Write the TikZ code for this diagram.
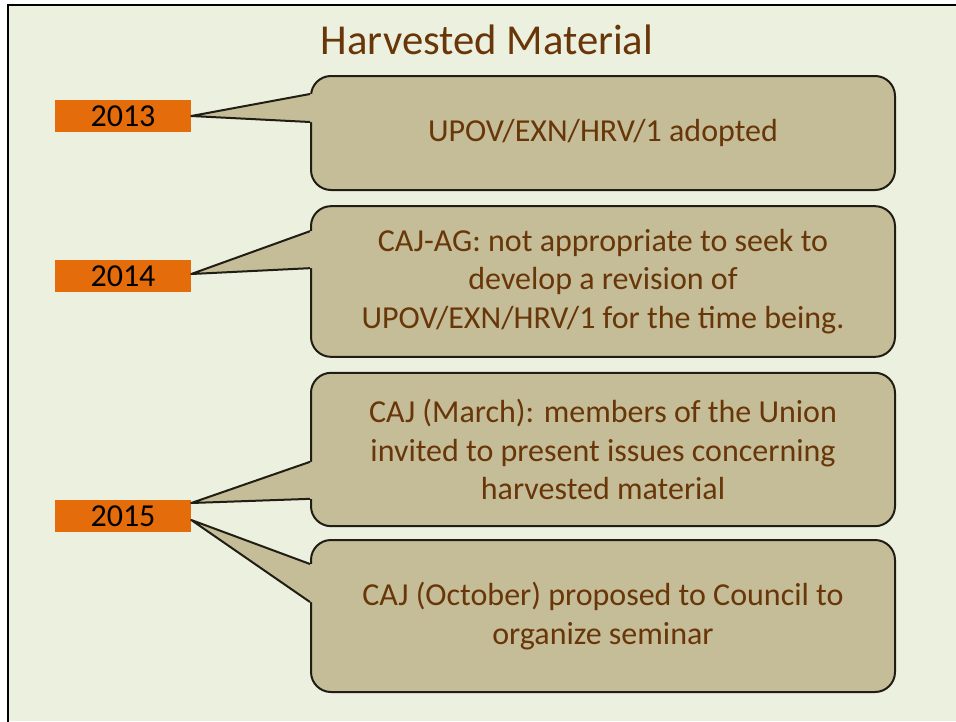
\documentclass[tikz,border=0pt]{standalone}
\usepackage{fontspec}
\setmainfont{Carlito}
\usetikzlibrary{calc}

\definecolor{slidebg}{RGB}{235,240,223}
\definecolor{notefill}{RGB}{196,189,151}
\definecolor{yearorange}{RGB}{228,108,10}
\definecolor{notebrown}{RGB}{104,54,8}
\definecolor{edgedark}{RGB}{32,30,20}

\tikzset{
  yearbox/.style={fill=yearorange, inner sep=0pt, minimum width=102pt, minimum height=24pt,
    font=\fontsize{24}{28}\selectfont},
  notebox/.style={draw=edgedark, line width=1.5pt, fill=notefill, rounded corners=15pt,
    minimum width=438pt, align=center, text=notebrown, font=\fontsize{24}{29}\selectfont},
  noteedge/.style={draw=edgedark, line width=1.5pt, line join=round},
}

\begin{document}
\begin{tikzpicture}[x=0.75pt, y=-0.75pt]
  \useasboundingbox (0,0) rectangle (956,721);
  \fill[slidebg] (8,5) rectangle (956,721);
  \draw[line width=2pt] (8,730) -- (8,5) -- (965,5);

  \node[text=notebrown, font=\fontsize{32}{38}\selectfont] (title) at (487,40) {Harvested Material};

  % years
  \node[yearbox] (y13) at (123,116) {2013};
  \node[yearbox] (y14) at (123,276) {2014};
  \node[yearbox] (y15) at (123,516) {2015};

  % notes
  \node[notebox, minimum height=85.5pt] (n1) at (603,133) {UPOV/EXN/HRV/1 adopted};
  \node[notebox, minimum height=113pt] (n2) at (603,281.5) {CAJ-AG: not appropriate to seek to\\
    develop a revision of\\ UPOV/EXN/HRV/1 for the time being.};
  \node[notebox, minimum height=115pt] (n3) at (603,449.5) {CAJ (March): members of the Union\\
    invited to present issues concerning\\ harvested material};
  \node[notebox, minimum height=114pt] (n4) at (603,616) {CAJ (October) proposed to Council to\\
    organize seminar};

  % pointers: year, note, tip shift, upper and lower base
  \foreach \yr/\nt/\tip/\ba/\bb in {y13/n1/0/19/47, y14/n2/-2/26/63, y15/n3/-13/90/127, y15/n4/4/25/63} {
    \coordinate (tp) at ($(\yr.east)+(0,\tip)$);
    \coordinate (ba) at ($(\nt.north west)+(0,\ba)$);
    \coordinate (bb) at ($(\nt.north west)+(0,\bb)$);
    \fill[notefill] (tp) -- (ba) -- ++(3,0) |- (bb) -- cycle;
    \draw[noteedge] (ba) -- (tp) -- (bb);
  }
\end{tikzpicture}
\end{document}
